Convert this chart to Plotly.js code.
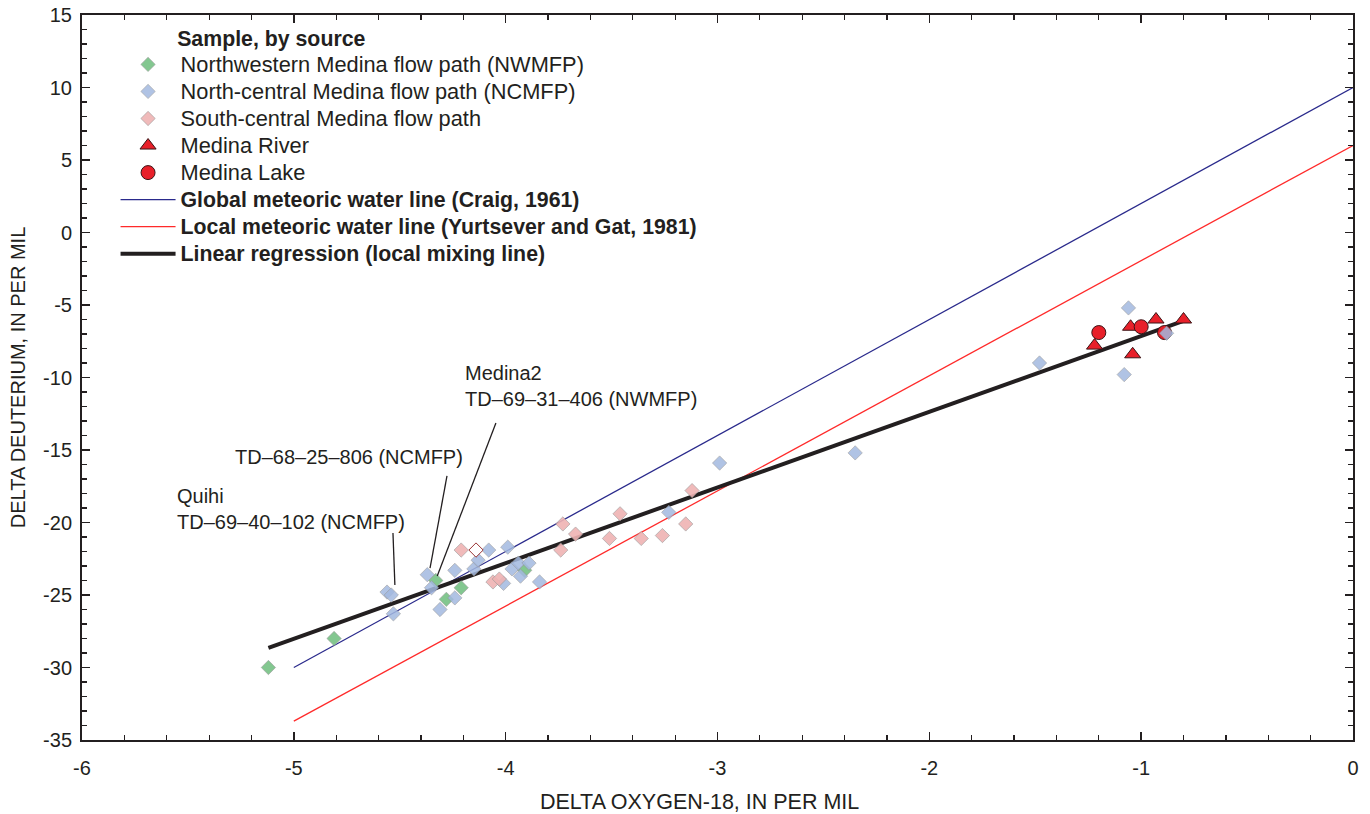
<!DOCTYPE html>
<html>
<head>
<meta charset="utf-8">
<script src="https://cdn.plot.ly/plotly-3.0.1.min.js"></script>
<style>html,body{margin:0;padding:0;background:#fff;}#chart{width:1370px;height:814px;}</style>
</head>
<body>
<div id="chart"></div>
<script>
// ---- data ----
const nwX = [-5.12, -4.81, -4.33, -4.21, -4.28, -3.91];
const nwY = [-30.0, -28.0, -24.0, -24.5, -25.3, -23.3];

const ncX = [-4.56, -4.54, -4.53, -4.37, -4.35, -4.31, -4.24, -4.24, -4.15, -4.13, -4.08, -4.01, -3.99, -3.97, -3.94, -3.93, -3.89, -3.84, -3.23, -2.99, -2.35, -1.48, -1.08, -1.06, -0.88];
const ncY = [-24.8, -25.0, -26.3, -23.6, -24.5, -26.0, -23.3, -25.2, -23.2, -22.6, -21.9, -24.2, -21.7, -23.2, -22.8, -23.7, -22.8, -24.1, -19.3, -15.9, -15.2, -9.0, -9.8, -5.2, -6.95];

const scX = [-4.21, -4.06, -4.03, -3.74, -3.73, -3.67, -3.51, -3.46, -3.36, -3.26, -3.15, -3.12];
const scY = [-21.9, -24.1, -23.9, -21.9, -20.1, -20.8, -21.1, -19.4, -21.1, -20.9, -20.1, -17.8];

const hollowX = [-4.14];
const hollowY = [-21.9];

const riverX = [-1.22, -1.05, -1.04, -0.93, -0.80];
const riverY = [-7.8, -6.5, -8.4, -6.0, -6.0];

const lakeX = [-1.20, -1.00, -0.89];
const lakeY = [-6.9, -6.5, -6.9];

const gmwlX = [-5, 0];
const gmwlY = [-30, 10];
const lmwlX = [-5, 0];
const lmwlY = [-33.7, 6.0];
const regX = [-5.12, -0.80];
const regY = [-28.65, -6.1];

const xTickVals = [-6, -5, -4, -3, -2, -1, 0];
const xTickText = ['-6', '-5', '-4', '-3', '-2', '-1', '0'];
const yTickVals = [-35, -30, -25, -20, -15, -10, -5, 0, 5, 10, 15];
const yTickText = ['-35', '-30', '-25', '-20', '-15', '-10', '-5', '0', '5', '10', '15'];

const seriesNames = [
  'Northwestern Medina flow path (NWMFP)',
  'North-central Medina flow path (NCMFP)',
  'South-central Medina flow path',
  'Medina River',
  'Medina Lake',
  'Global meteoric water line (Craig, 1961)',
  'Local meteoric water line (Yurtsever and Gat, 1981)',
  'Linear regression (local mixing line)'
];
const legendTitle = 'Sample, by source';

const labelTexts = ['Medina2<br>TD–69–31–406 (NWMFP)', 'TD–68–25–806 (NCMFP)', 'Quihi<br>TD–69–40–102 (NCMFP)'];
const labelX = [-4.20, -5.287, -5.561];
const labelY = [-10.59, -15.48, -19.07];
// leader lines from label to sample
const leaderX0 = [-4.046, -4.277, -4.532];
const leaderY0 = [-13.14, -16.79, -20.72];
const leaderX1 = [-4.323, -4.357, -4.523];
const leaderY1 = [-23.69, -23.14, -24.31];

// ---- styling ----
const INK = '#231f20';
const FONT = 'Liberation Sans, Arial, Helvetica, sans-serif';
const big = (t, px) => '<span style="font-size:' + px + 'px">' + t + '</span>';
const bold = t => '<b>' + t + '</b>';
const REG = 21.8, BLD = 21.3;

const diamondLine = {color: 'rgba(150,150,150,0.8)', width: 0.8};

const traces = [
  {x: gmwlX, y: gmwlY, mode: 'lines', name: big(bold(seriesNames[5]), BLD),
   line: {color: '#2a2a8c', width: 1.3}, legendrank: 6},
  {x: lmwlX, y: lmwlY, mode: 'lines', name: big(bold(seriesNames[6]), BLD),
   line: {color: '#ff2a2a', width: 1.3}, legendrank: 7},
  {x: regX, y: regY, mode: 'lines', name: big(bold(seriesNames[7]), BLD),
   line: {color: INK, width: 4}, legendrank: 8},
  {x: riverX, y: riverY, mode: 'markers', name: big(seriesNames[3], REG),
   marker: {symbol: 'triangle-up', size: 14, color: '#e8202a', line: {color: '#3b1416', width: 1}}, legendrank: 4},
  {x: lakeX, y: lakeY, mode: 'markers', name: big(seriesNames[4], REG),
   marker: {symbol: 'circle', size: 14, color: '#e8202a', line: {color: '#3b1416', width: 1}}, legendrank: 5},
  {x: nwX, y: nwY, mode: 'markers', name: big(seriesNames[0], REG),
   marker: {symbol: 'diamond', size: 11, color: '#76c285', line: diamondLine, opacity: 0.9}, legendrank: 1},
  {x: ncX, y: ncY, mode: 'markers', name: big(seriesNames[1], REG),
   marker: {symbol: 'diamond', size: 11, color: '#a3b9e0', line: diamondLine, opacity: 0.85}, legendrank: 2},
  {x: scX, y: scY, mode: 'markers', name: big(seriesNames[2], REG),
   marker: {symbol: 'diamond', size: 11, color: '#efb3b3', line: diamondLine, opacity: 0.9}, legendrank: 3},
  {x: hollowX, y: hollowY, mode: 'markers', showlegend: false, name: '',
   marker: {symbol: 'diamond', size: 11, color: '#ffffff', line: {color: '#9a3535', width: 1}}}
];

const annotations = labelTexts.map((t, i) => ({
  x: labelX[i], y: labelY[i], xref: 'x', yref: 'y', text: t, showarrow: false,
  xanchor: 'left', yanchor: 'middle', align: 'left',
  font: {family: FONT, size: 20, color: INK}
}));

const shapes = leaderX0.map((v, i) => ({
  type: 'line', xref: 'x', yref: 'y', x0: v, y0: leaderY0[i], x1: leaderX1[i], y1: leaderY1[i],
  line: {color: INK, width: 1.3}
}));

const axisCommon = {
  showgrid: false, zeroline: false, showline: true, linecolor: INK, linewidth: 2,
  mirror: 'allticks', ticks: 'inside', ticklen: 8, tickwidth: 1.5, tickcolor: INK,
  tickfont: {family: FONT, size: 20, color: INK}
};

const pad = n => '&nbsp;'.repeat(n);

const layout = {
  width: 1370, height: 814,
  margin: {l: 82, r: 17, t: 15, b: 74, pad: 0},
  paper_bgcolor: '#ffffff', plot_bgcolor: '#ffffff',
  font: {family: FONT, color: INK, size: 20},
  showlegend: true,
  legend: {
    x: 0.0264, y: 0.9924, xanchor: 'left', yanchor: 'top',
    bgcolor: 'rgba(0,0,0,0)', borderwidth: 0,
    font: {family: FONT, size: 18.5, color: INK},
    itemwidth: 55,
    title: {text: pad(11) + big(bold(legendTitle), BLD), font: {family: FONT, size: 19.5, color: INK}},
    traceorder: 'normal'
  },
  xaxis: Object.assign({}, axisCommon, {
    range: [-6, 0], tickmode: 'array', tickvals: xTickVals, ticktext: xTickText,
    ticklabelstandoff: 9,
    minor: {dtick: 0.2, ticks: 'inside', ticklen: 5, tickwidth: 1.2, tickcolor: INK, showgrid: false},
    title: {text: 'DELTA OXYGEN-18, IN PER MIL' + pad(6), font: {family: FONT, size: 21.5, color: INK}, standoff: 18}
  }),
  yaxis: Object.assign({}, axisCommon, {
    range: [-35, 15], tickmode: 'array', tickvals: yTickVals, ticktext: yTickText,
    ticklabelstandoff: 4,
    minor: {dtick: 1, ticks: 'inside', ticklen: 5, tickwidth: 1.2, tickcolor: INK, showgrid: false},
    title: {text: 'DELTA DEUTERIUM, IN PER MIL', font: {family: FONT, size: 20, color: INK}, standoff: 12}
  }),
  annotations: annotations,
  shapes: shapes
};

Plotly.newPlot('chart', traces, layout, {displayModeBar: false, staticPlot: true});
</script>
</body>
</html>
